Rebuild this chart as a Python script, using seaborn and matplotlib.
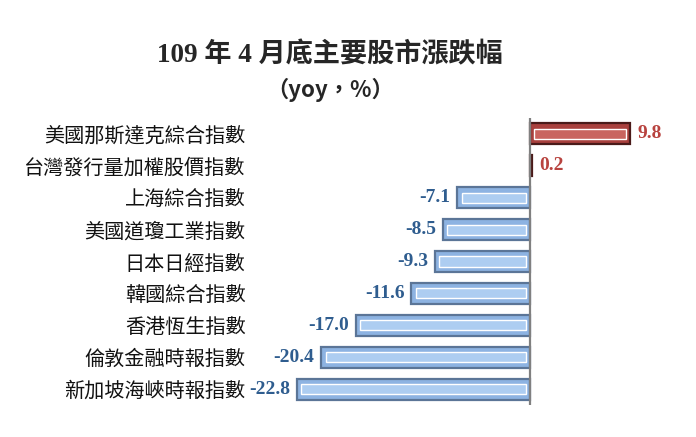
import matplotlib
matplotlib.use('Agg')
import matplotlib.pyplot as plt
import seaborn as sns
import pandas as pd

# data
markets = ['美國那斯達克綜合指數', '台灣發行量加權股價指數', '上海綜合指數',
           '美國道瓊工業指數', '日本日經指數', '韓國綜合指數', '香港恆生指數',
           '倫敦金融時報指數', '新加坡海峽時報指數']
changes = [9.8, 0.2, -7.1, -8.5, -9.3, -11.6, -17.0, -20.4, -22.8]

title = '109 年 4 月底主要股市漲跌幅'
subtitle = '（yoy，%）'

df = pd.DataFrame({'market': markets, 'change': changes})
df['sign'] = ['up' if v > 0 else 'down' for v in changes]

sns.set_theme(style='white')
plt.rcParams['font.family'] = ['Liberation Serif', 'Noto Sans CJK TC', 'DejaVu Sans']

fig = plt.figure(figsize=(6.96, 4.37), dpi=100)
ax = fig.add_axes([290 / 696, 32 / 437, 380 / 696, 287 / 437])

palette = {'up': '#A9403D', 'down': '#8DB3E2'}
edges = {'up': '#4A1A19', 'down': '#5B7597'}

sns.barplot(data=df, y='market', x='change', hue='sign', palette=palette,
            dodge=False, legend=False, width=0.66, ax=ax, saturation=1)
for cont, key in zip(ax.containers, df['sign'].unique()):
    for bar in cont:
        bar.set_edgecolor(edges[key])
        bar.set_linewidth(1.6)

# lighter inner stripe for the bevelled look
for i, v in enumerate(changes):
    shade = '#C9645F' if v > 0 else '#ADCDF1'
    inset = 0.4 * (1 if v < 0 else -1)
    if abs(v) > 1:
        ax.barh(i, v + 2 * inset, left=-inset, height=0.32, color=shade, zorder=3)

ax.axvline(0, color='#808080', lw=1.6, zorder=4)

for i, v in enumerate(changes):
    if v > 0:
        ax.annotate(f'{v:.1f}', (v, i), xytext=(5, 0), textcoords='offset points',
                    ha='left', va='center', fontsize=14, fontweight='bold',
                    color='#B8433F', family='Liberation Serif')
    else:
        ax.annotate(f'{v:.1f}', (v, i), xytext=(-5, 0), textcoords='offset points',
                    ha='right', va='center', fontsize=14, fontweight='bold',
                    color='#2F5D8F', family='Liberation Serif')

ax.set_xlim(-23.48, 13.70)
ax.set_ylim(8.5, -0.5)
ax.set_xlabel('')
ax.set_ylabel('')
ax.set_xticks([])
sns.despine(ax=ax, left=True, bottom=True)
ax.tick_params(axis='y', length=0, pad=32)
for lab in ax.get_yticklabels():
    lab.set_fontfamily('Noto Sans CJK TC')
    lab.set_fontsize(14.5)
    lab.set_color('#111111')

fig.text(0.474, 0.874, title, ha='center', va='center', fontsize=19.5,
         fontweight='bold', family=['Liberation Serif', 'Noto Sans CJK TC'])
fig.text(0.474, 0.794, subtitle, ha='center', va='center', fontsize=16,
         fontweight='bold', family=['Noto Sans CJK TC', 'DejaVu Sans'])

fig.savefig('out.png', dpi=100, facecolor='white')
